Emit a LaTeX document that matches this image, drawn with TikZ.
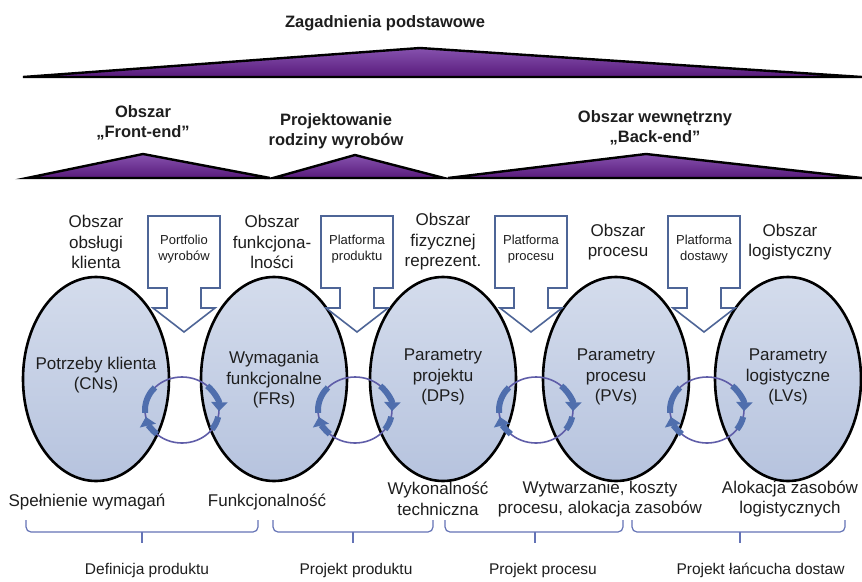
\documentclass[tikz,border=0pt]{standalone}
\usepackage{fontspec}
\setmainfont{Liberation Sans}
\usepackage{tikz}
\usetikzlibrary{shapes.geometric, arrows.meta}

\definecolor{fioletG}{HTML}{8652AE}
\definecolor{fioletD}{HTML}{581A7B}
\definecolor{elipsaG}{HTML}{D4DCEC}
\definecolor{elipsaD}{HTML}{B6C3DE}
\definecolor{ramka}{HTML}{4E6597}
\definecolor{obieg}{HTML}{5F5DA8}
\definecolor{strzalka}{HTML}{4F6EAD}
\definecolor{klamraKol}{HTML}{6473B6}
\definecolor{tekst}{HTML}{1E1E1E}

\begin{document}
\begin{tikzpicture}[
    x=1pt, y=-1pt,
    trojkat/.style={draw=black, line width=2.4pt, top color=fioletG, bottom color=fioletD},
    naglowek/.style={font=\fontsize{16.5}{20}\selectfont\bfseries, text=tekst, align=center},
    obszar/.style={
        ellipse, draw=black, line width=2.6pt,
        minimum width=146pt, minimum height=204pt,
        top color=elipsaG, bottom color=elipsaD
    },
    opis/.style={font=\fontsize{17}{20.5}\selectfont, text=tekst, align=center},
    dymek/.style={draw=ramka, line width=1.6pt, fill=white},
    dymektxt/.style={font=\fontsize{13}{16}\selectfont, text=tekst, align=center},
    pierscien/.style={draw=obieg, line width=1.6pt},
    luk/.style={draw=strzalka, line width=6pt},
    lukgrot/.style={luk, -{Triangle[width=16pt, length=9pt]}},
    klamra/.style={draw=klamraKol, line width=1.2pt, rounded corners=5pt},
    etap/.style={font=\fontsize{15.5}{19}\selectfont, text=tekst},
]
\fill[white] (0,0) rectangle (862,581);
\useasboundingbox (0,0) rectangle (862,581);

%% Zagadnienia podstawowe
\node[naglowek] (zp) at (385,23) {Zagadnienia podstawowe};
\draw[trojkat] (23,77) -- (420,48) -- (862,77) -- cycle;

%% Obszary
\node[naglowek] (fe) at (143,123) {Obszar\\„Front-end”};
\node[naglowek] (rw) at (336,131) {Projektowanie\\rodziny wyrobów};
\node[naglowek] (be) at (655,128) {Obszar wewnętrzny\\„Back-end”};
\draw[trojkat] (27,178) -- (143,154) -- (270,178) -- cycle;
\draw[trojkat] (273,178) -- (355,155) -- (444,178) -- cycle;
\draw[trojkat] (448,178) -- (646,154) -- (862,178) -- cycle;

%% Elipsy
\node[obszar] (cn) at (96,379) {};
\node[obszar] (fr) at (274,379) {};
\node[obszar] (dp) at (443,379) {};
\node[obszar] (pv) at (616,379) {};
\node[obszar] (lv) at (788,379) {};

\node[opis] (cntx) at (96,375) {Potrzeby klienta\\(CNs)};
\node[opis] (frtx) at (274,380) {Wymagania\\funkcjonalne\\(FRs)};
\node[opis] (dptx) at (443,377) {Parametry\\projektu\\(DPs)};
\node[opis] (pvtx) at (616,377) {Parametry\\procesu\\(PVs)};
\node[opis] (lvtx) at (788,377) {Parametry\\logistyczne\\(LVs)};

%% Opisy nad elipsami
\node[opis] (o1) at (96,242) {Obszar\\obsługi\\klienta};
\node[opis] (o2) at (272,242) {Obszar\\funkcjona-\\lności};
\node[opis] (o3) at (443,242) {Obszar\\fizycznej\\reprezent.};
\node[opis] (o4) at (618,242) {Obszar\\procesu};
\node[opis] (o5) at (790,242) {Obszar\\logistyczny};

%% Platformy (strzalki w dol)
\coordinate (k1) at (184,252);
\coordinate (k2) at (357,252);
\coordinate (k3) at (531,252);
\coordinate (k4) at (704,252);
\draw[dymek] (k1) +(-36,-36) -- +(36,-36) -- +(36,36) -- +(17,36) -- +(17,56) -- +(31,56)
    -- +(0,80) -- +(-31,56) -- +(-17,56) -- +(-17,36) -- +(-36,36) -- cycle;
\draw[dymek] (k2) +(-36,-36) -- +(36,-36) -- +(36,36) -- +(17,36) -- +(17,56) -- +(31,56)
    -- +(0,80) -- +(-31,56) -- +(-17,56) -- +(-17,36) -- +(-36,36) -- cycle;
\draw[dymek] (k3) +(-36,-36) -- +(36,-36) -- +(36,36) -- +(17,36) -- +(17,56) -- +(31,56)
    -- +(0,80) -- +(-31,56) -- +(-17,56) -- +(-17,36) -- +(-36,36) -- cycle;
\draw[dymek] (k4) +(-36,-36) -- +(36,-36) -- +(36,36) -- +(17,36) -- +(17,56) -- +(31,56)
    -- +(0,80) -- +(-31,56) -- +(-17,56) -- +(-17,36) -- +(-36,36) -- cycle;
\node[dymektxt] (pw) at (184,249) {Portfolio\\wyrobów};
\node[dymektxt] (pp) at (357,249) {Platforma\\produktu};
\node[dymektxt] (pr) at (531,249) {Platforma\\procesu};
\node[dymektxt] (pd) at (704,249) {Platforma\\dostawy};

%% Obiegi miedzy elipsami
\coordinate (c1) at (182,410);
\coordinate (c2) at (355,410);
\coordinate (c3) at (536,410);
\coordinate (c4) at (707,410);

\draw[pierscien] (c1) ellipse [x radius=37, y radius=33];
\draw[luk] ([shift={(-185:37 and 33)}]c1) arc[start angle=-185, end angle=-137, x radius=37, y radius=33];
\draw[lukgrot] ([shift={(-47:37 and 33)}]c1) arc[start angle=-47, end angle=2, x radius=37, y radius=33];
\draw[luk] ([shift={(12:37 and 33)}]c1) arc[start angle=12, end angle=36, x radius=37, y radius=33];
\draw[lukgrot] ([shift={(133:37 and 33)}]c1) arc[start angle=133, end angle=168, x radius=37, y radius=33];

\draw[pierscien] (c2) ellipse [x radius=37, y radius=33];
\draw[luk] ([shift={(-185:37 and 33)}]c2) arc[start angle=-185, end angle=-137, x radius=37, y radius=33];
\draw[lukgrot] ([shift={(-47:37 and 33)}]c2) arc[start angle=-47, end angle=2, x radius=37, y radius=33];
\draw[luk] ([shift={(12:37 and 33)}]c2) arc[start angle=12, end angle=36, x radius=37, y radius=33];
\draw[lukgrot] ([shift={(133:37 and 33)}]c2) arc[start angle=133, end angle=168, x radius=37, y radius=33];

\draw[pierscien] (c3) ellipse [x radius=37, y radius=33];
\draw[luk] ([shift={(-185:37 and 33)}]c3) arc[start angle=-185, end angle=-137, x radius=37, y radius=33];
\draw[lukgrot] ([shift={(-47:37 and 33)}]c3) arc[start angle=-47, end angle=2, x radius=37, y radius=33];
\draw[luk] ([shift={(12:37 and 33)}]c3) arc[start angle=12, end angle=36, x radius=37, y radius=33];
\draw[lukgrot] ([shift={(133:37 and 33)}]c3) arc[start angle=133, end angle=168, x radius=37, y radius=33];

\draw[pierscien] (c4) ellipse [x radius=37, y radius=33];
\draw[luk] ([shift={(-185:37 and 33)}]c4) arc[start angle=-185, end angle=-137, x radius=37, y radius=33];
\draw[lukgrot] ([shift={(-47:37 and 33)}]c4) arc[start angle=-47, end angle=2, x radius=37, y radius=33];
\draw[luk] ([shift={(12:37 and 33)}]c4) arc[start angle=12, end angle=36, x radius=37, y radius=33];
\draw[lukgrot] ([shift={(133:37 and 33)}]c4) arc[start angle=133, end angle=168, x radius=37, y radius=33];

%% Cechy pod elipsami
\node[opis] (sw) at (87,502) {Spełnienie wymagań};
\node[opis] (fu) at (267,502) {Funkcjonalność};
\node[opis] (wt) at (438,499) {Wykonalność\\techniczna};
\node[opis] (wk) at (600,499) {Wytwarzanie, koszty\\procesu, alokacja zasobów};
\node[opis] (al) at (790,499) {Alokacja zasobów\\logistycznych};

%% Klamry
\draw[klamra] (26,520) -- (26,532) -- (258,532) -- (258,520);
\draw[klamra] (273,520) -- (273,532) -- (433,532) -- (433,520);
\draw[klamra] (445,520) -- (445,532) -- (623,532) -- (623,520);
\draw[klamra] (632,520) -- (632,532) -- (845,532) -- (845,520);
\draw[klamra] (142,532) -- (142,543);
\draw[klamra] (353,532) -- (353,543);
\draw[klamra] (535,532) -- (535,543);
\draw[klamra] (740,532) -- (740,543);

%% Etapy
\node[etap] (dfp) at (147,570) {Definicja produktu};
\node[etap] (pjp) at (356,570) {Projekt produktu};
\node[etap] (pjr) at (543,570) {Projekt procesu};
\node[etap, anchor=west] (pjl) at (673,570) {Projekt łańcucha dostaw};

\end{tikzpicture}
\end{document}
